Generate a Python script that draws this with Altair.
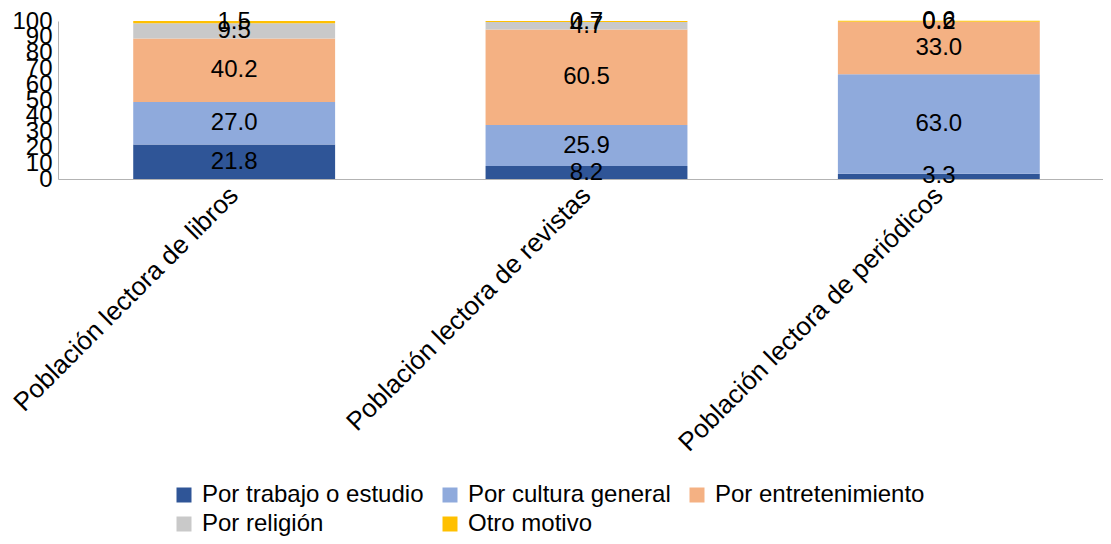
import altair as alt
import pandas as pd

categories = ["Población lectora de libros", "Población lectora de revistas", "Población lectora de periódicos"]
series = ["Por trabajo o estudio", "Por cultura general", "Por entretenimiento", "Por religión", "Otro motivo"]
colors = ["#2F5597", "#8FAADC", "#F4B183", "#C9C9C9", "#FFC000"]

trabajo = [21.8, 8.2, 3.3]
cultura = [27.0, 25.9, 63.0]
entretenimiento = [40.2, 60.5, 33.0]
religion = [9.5, 4.7, 0.2]
otro = [1.5, 0.7, 0.6]

vals = [trabajo, cultura, entretenimiento, religion, otro]
rows = []
for si, s in enumerate(series):
    for ci, c in enumerate(categories):
        rows.append({"cat": c, "serie": s, "orden": si, "valor": vals[si][ci]})
df = pd.DataFrame(rows)

FONT = "Liberation Sans"

base = alt.Chart(df).transform_stack(
    stack="valor", groupby=["cat"], as_=["v0", "v1"], sort=[alt.SortField("orden", "ascending")]
).transform_calculate(mid="(datum.v0 + datum.v1) / 2")

xscale = alt.Scale(paddingInner=0.427, paddingOuter=0.2135, range=[0, 1057])
xaxis = alt.Axis(labelAngle=-45, labelAlign="right", labelBaseline="middle",
                 labelFontSize=26, labelFont=FONT, labelColor="black",
                 ticks=False, labelPadding=12, domainColor="#b3b3b3", labelLimit=600)

yscale = alt.Scale(domain=[0, 100], nice=False)
yaxis = alt.Axis(values=list(range(0, 101, 10)), labelFontSize=24, labelFont=FONT,
                 labelColor="black", ticks=False, grid=False, domainColor="#b3b3b3",
                 labelPadding=6, labelOverlap=False)

bars = base.mark_bar().encode(
    x=alt.X("cat:N", sort=categories, title=None, scale=xscale, axis=xaxis),
    y=alt.Y("v0:Q", title=None, scale=yscale, axis=yaxis),
    y2="v1:Q",
    color=alt.Color("serie:N", sort=series, scale=alt.Scale(domain=series, range=colors),
                    legend=alt.Legend(title=None, orient="none", legendX=114, legendY=462,
                                      direction="horizontal", columns=3, symbolType="square",
                                      symbolSize=225, symbolStrokeWidth=0, labelFontSize=24,
                                      labelFont=FONT, labelColor="black", columnPadding=14,
                                      rowPadding=5, symbolOffset=0, labelOffset=6,
                                      gridAlign="each", labelLimit=500)),
    order=alt.Order("orden:Q"),
)

texts = base.mark_text(fontSize=24, font=FONT, color="black").encode(
    x=alt.X("cat:N", sort=categories, title=None, scale=xscale, axis=xaxis),
    y=alt.Y("mid:Q", title=None, scale=yscale, axis=yaxis),
    text=alt.Text("valor:Q", format=".1f"),
)

chart = alt.layer(bars, texts).properties(
    width=1045, height=158,
    autosize=alt.AutoSizeParams(type="none"),
    padding={"left": 50, "top": 13, "right": 0, "bottom": 357},
).configure(background="white").configure_view(stroke=None)

chart.save("out.html", embed_options={"renderer": "svg", "actions": False})
